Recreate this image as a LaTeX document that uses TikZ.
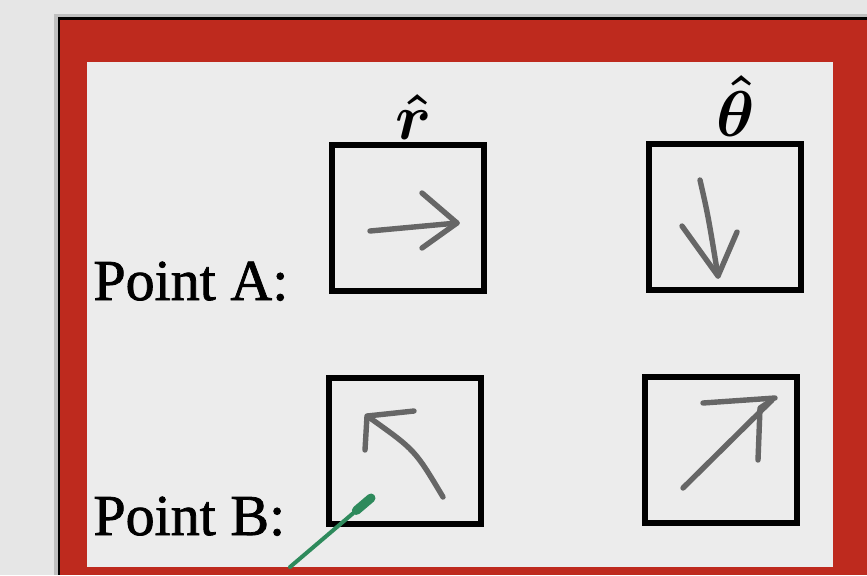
\documentclass[tikz,border=0pt]{standalone}
\usepackage{amsmath}
\usepackage{amssymb}
\usepackage{fontspec}
\setmainfont{Liberation Serif}
\newfontfamily\scanfont{Liberation Serif}[FakeBold=1.3]
\usetikzlibrary{positioning,calc}
\definecolor{backg}{HTML}{E6E6E6}
\definecolor{framered}{HTML}{BE2A1E}
\definecolor{panel}{HTML}{ECECEC}
\definecolor{pen}{HTML}{666666}
\definecolor{marker}{HTML}{2E8A5C}
\tikzset{
  vbox/.style={draw=black,line width=3.3pt,minimum width=76pt,minimum height=73pt,inner sep=0pt},
  pencil/.style={pen,line width=2.7pt,line cap=round,line join=round},
  ptlbl/.style={font=\scanfont\fontsize{29}{31}\selectfont,inner sep=0pt,anchor=base west},
  hatlbl/.style={font=\fontsize{24.88}{27}\selectfont,scale=1.3,transform shape,inner sep=0pt}
}

\begin{document}
\begin{tikzpicture}[x=0.5pt,y=-0.5pt]
  % page, frame and panel
  \fill[backg] (0,0) rectangle (867,575);
  \useasboundingbox (0,0) rectangle (867,575);
  \fill[black!25] (54,14) rectangle (867,575);
  \fill[black] (58,17) rectangle (867,575);
  \fill[framered] (60,20) rectangle (867,575);
  \fill[panel] (87,62) rectangle (833,567);

  % boxes
  \node[vbox] (rA) at (408,218) {};
  \node[vbox] (tA) at (725,217) {};
  \node[vbox] (rB) at (405,451) {};
  \node[vbox] (tB) at (721,450) {};

  % headings
  \node[hatlbl,above=1pt of rA,xshift=2pt] (rhat) {$\boldsymbol{\hat{r}}$};
  \node[hatlbl,above=2pt of tA,xshift=4pt] (thhat) {$\boldsymbol{\hat{\theta}}$};

  % row labels
  \node[ptlbl] (ptA) at (93,300) {Point A:};
  \node[ptlbl] (ptB) at (93,535) {Point B:};

  % hand-drawn vectors
  \draw[pencil] (370,231) -- (457,223);
  \draw[pencil] (422,193) -- (457,223) -- (422,248);

  \draw[pencil] (700,180) .. controls (708,215) .. (718,276);
  \draw[pencil] (682,226) -- (718,276) -- (737,232);

  \draw[pencil] (443,497) .. controls (415,450) .. (370,418);
  \draw[pencil] (365,450) -- (367,416) -- (414,411);

  \draw[pencil] (683,488) -- (772,400);
  \draw[pencil] (703,403) -- (775,398);
  \draw[pencil] (758,460) -- (760,408) -- (772,400);

  % green marker
  \coordinate (gEnd) at (290,567);
  \coordinate (gTip) at (371,498);
  \draw[marker,line width=2pt,line cap=round] (gEnd) -- (gTip);
  \draw[marker,line width=4.5pt,line cap=round] ($(gEnd)!0.82!(gTip)$) -- (gTip);
\end{tikzpicture}
\end{document}
